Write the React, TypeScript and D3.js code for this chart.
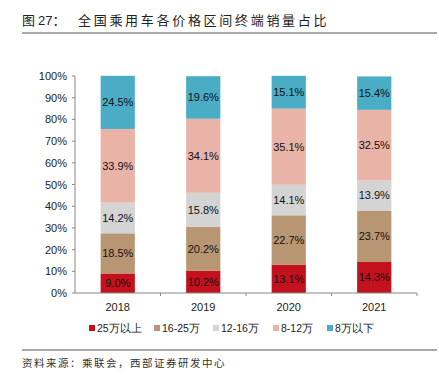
import React from "react";
import * as d3 from "d3";

const years = ["2018", "2019", "2020", "2021"];
const seriesNames = ["25万以上", "16-25万", "12-16万", "8-12万", "8万以下"];
const seriesColors = ["#C3111E", "#B99673", "#D4D4D4", "#E9B3A7", "#4BACC6"];
const s25up = [9.0, 10.2, 13.1, 14.3];
const s16to25 = [18.5, 20.2, 22.7, 23.7];
const s12to16 = [14.2, 15.8, 14.1, 13.9];
const s8to12 = [33.9, 34.1, 35.1, 32.5];
const s8down = [24.5, 19.6, 15.1, 15.4];
const yTicks = [0, 10, 20, 30, 40, 50, 60, 70, 80, 90, 100];

const W = 439, H = 375;
const left = 75, right = 417, top = 76, bottom = 293;
const font = "'Liberation Sans', Arial, sans-serif";
const cjk = "'Noto Sans CJK SC', sans-serif";

export default function App() {
  const series = [s25up, s16to25, s12to16, s8to12, s8down];
  const table = years.map((y, i) => {
    const o: any = { year: y };
    seriesNames.forEach((n, k) => (o[n] = series[k][i]));
    return o;
  });
  const stacked = d3.stack().keys(seriesNames)(table);
  const x = d3.scaleBand().domain(years).range([left, right]).paddingInner(0.6).paddingOuter(0.3);
  const y = d3.scaleLinear().domain([0, 100]).range([bottom, top]);
  const band = d3.scaleBand().domain(years).range([left, right]);
  const legendX = [89, 154, 213, 273, 327];

  return (
    <svg width={W} height={H} style={{ position: "absolute", left: 0, top: 0, background: "#fff" }}>
      <text x={22} y={25} fontFamily={cjk} fontSize={13} fill="#222">
        <tspan>图 </tspan>
        <tspan fontFamily={font}>27</tspan>
        <tspan>：</tspan>
      </text>
      <text x={78} y={25} fontFamily={cjk} fontSize={13} letterSpacing={2.7} fill="#222">全国乘用车各价格区间终端销量占比</text>
      <line x1={22} x2={437} y1={33} y2={33} stroke="#555" strokeWidth={1} />
      {stacked.map((s, k) =>
        s.map((d, i) => (
          <rect key={`${k}-${i}`} x={x(years[i])!} width={x.bandwidth()}
            y={y(d[1])} height={y(d[0]) - y(d[1])} fill={seriesColors[k]} />
        ))
      )}
      {stacked.map((s, k) =>
        s.map((d, i) => (
          <text key={`t${k}-${i}`} x={x(years[i])! + x.bandwidth() / 2} y={(y(d[0]) + y(d[1])) / 2 + 4}
            textAnchor="middle" fontFamily={font} fontSize={11} fill="#111">
            {series[k][i].toFixed(1)}%
          </text>
        ))
      )}
      <line x1={left} x2={left} y1={top} y2={bottom} stroke="#888" />
      <line x1={left} x2={right} y1={bottom} y2={bottom} stroke="#888" />
      {yTicks.map((t) => (
        <g key={t}>
          <line x1={left - 3} x2={left} y1={y(t)} y2={y(t)} stroke="#888" />
          <text x={67} y={y(t) + 4} textAnchor="end" fontFamily={font} fontSize={11} fill="#222">{t}%</text>
        </g>
      ))}
      {years.map((yr) => (
        <g key={yr}>
          <line x1={band(yr)! + band.bandwidth()} x2={band(yr)! + band.bandwidth()} y1={bottom} y2={bottom + 3} stroke="#888" />
          <text x={band(yr)! + band.bandwidth() / 2} y={311} textAnchor="middle" fontFamily={font} fontSize={11} fill="#222">{yr}</text>
        </g>
      ))}
      {seriesNames.map((n, k) => (
        <g key={n}>
          <rect x={legendX[k]} y={325} width={6} height={6} fill={seriesColors[k]} />
          <text x={legendX[k] + 8} y={332} fontFamily={font} fontSize={10.5} fill="#222">{n}</text>
        </g>
      ))}
      <line x1={22} x2={437} y1={350} y2={350} stroke="#555" strokeWidth={1} />
      <text x={22} y={367} fontFamily={cjk} fontSize={10.5} letterSpacing={1.5} fill="#333">资料来源：乘联会，西部证券研发中心</text>
    </svg>
  );
}
